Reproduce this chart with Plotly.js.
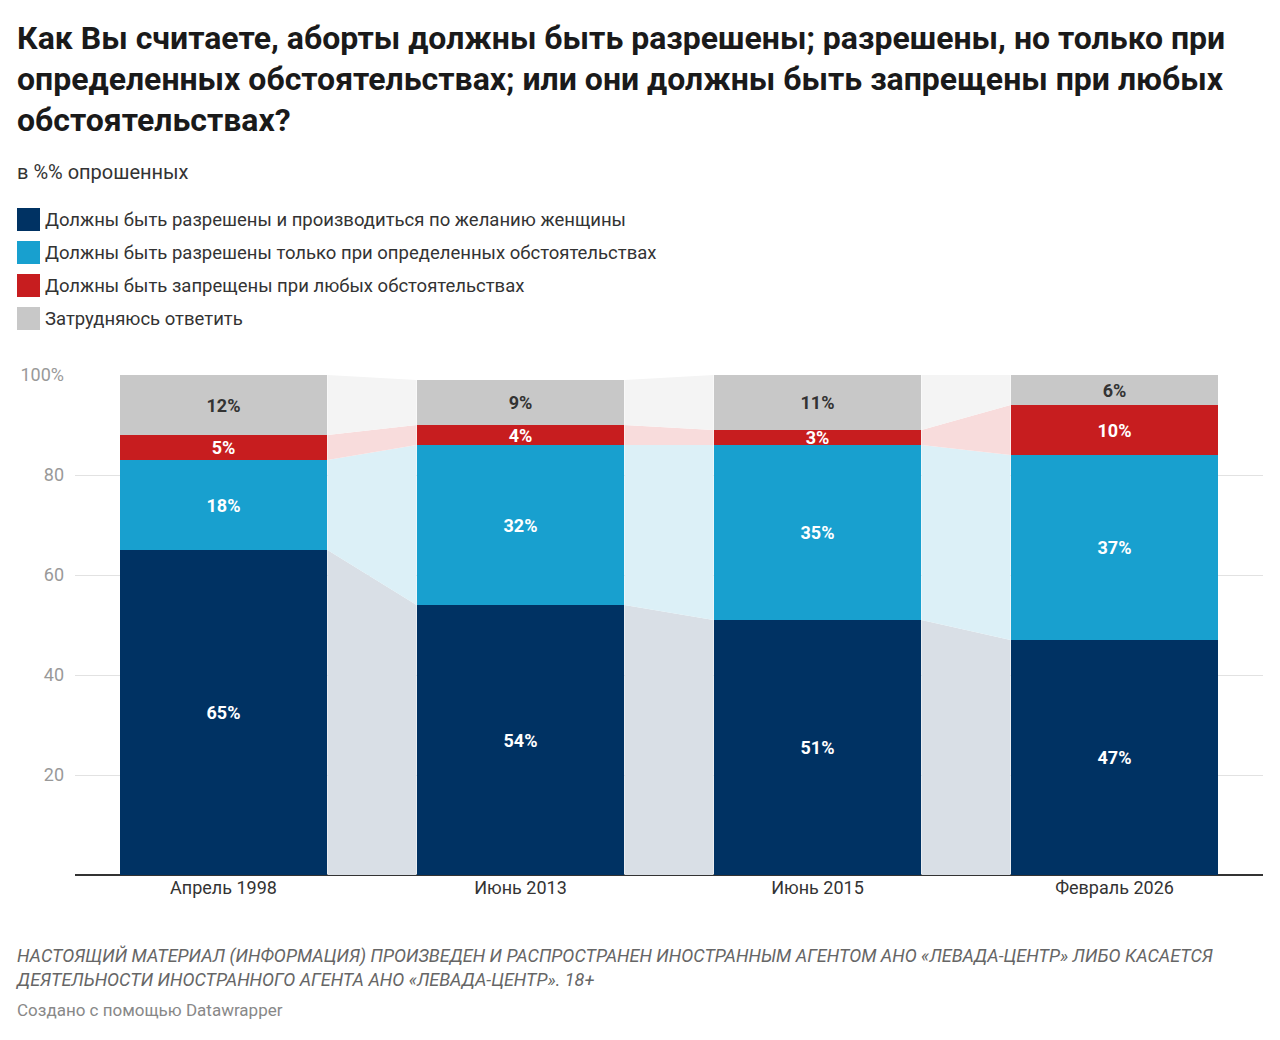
<!DOCTYPE html>
<html>
<head>
<meta charset="utf-8">
<script src="https://cdn.plot.ly/plotly-3.0.1.min.js"></script>
<style>
body { margin: 0; width: 1280px; height: 1040px; background: #fff; font-family: Roboto, "Noto Sans", sans-serif; position: relative; }
h1 { position: absolute; left: 17px; top: 18px; margin: 0; width: 1240px; font-size: 32px; line-height: 41px; font-weight: 700; color: #1a1a1a; }
.sub { position: absolute; left: 17px; top: 160px; font-size: 20px; color: #333; }
.legend { position: absolute; left: 17px; top: 203px; font-size: 18.5px; color: #333; }
.legend div { height: 33px; display: flex; align-items: center; }
.legend span { display: inline-block; width: 23px; height: 23px; margin-right: 5px; }
#plot { position: absolute; left: 0; top: 340px; width: 1280px; height: 590px; }
.note { position: absolute; left: 17px; top: 944px; width: 1250px; font-size: 18px; line-height: 24px; font-style: italic; color: #666; }
.credit { position: absolute; left: 17px; top: 1000px; font-size: 17px; color: #888; }
</style>
</head>
<body>
<h1>Как Вы считаете, аборты должны быть разрешены; разрешены, но только при определенных обстоятельствах; или они должны быть запрещены при любых обстоятельствах?</h1>
<div class="sub">в %% опрошенных</div>
<div class="legend" id="legend"></div>
<div id="plot"></div>
<div class="note">НАСТОЯЩИЙ МАТЕРИАЛ (ИНФОРМАЦИЯ) ПРОИЗВЕДЕН И РАСПРОСТРАНЕН ИНОСТРАННЫМ АГЕНТОМ АНО «ЛЕВАДА-ЦЕНТР» ЛИБО КАСАЕТСЯ ДЕЯТЕЛЬНОСТИ ИНОСТРАННОГО АГЕНТА АНО «ЛЕВАДА-ЦЕНТР». 18+</div>
<div class="credit">Создано с помощью Datawrapper</div>
<script>
const categories = ["Апрель 1998", "Июнь 2013", "Июнь 2015", "Февраль 2026"];
const seriesNames = [
    "Должны быть разрешены и производиться по желанию женщины",
    "Должны быть разрешены только при определенных обстоятельствах",
    "Должны быть запрещены при любых обстоятельствах",
    "Затрудняюсь ответить"
];
const allowed = [65, 54, 51, 47];
const conditional = [18, 32, 35, 37];
const banned = [5, 4, 3, 10];
const unsure = [12, 9, 11, 6];

const series = [allowed, conditional, banned, unsure];
const colors = ["#003263", "#18a0cf", "#c71d1f", "#c8c8c8"];
const bandColors = ["#d9dfe6", "#dcf0f7", "#f8dcdc", "#f4f4f4"];
const textColors = ["#fff", "#fff", "#fff", "#333"];
const barWidth = 0.7;

// legend
const legendDOM = document.getElementById("legend");
seriesNames.forEach((name, i) => {
    const row = document.createElement("div");
    row.innerHTML = '<span style="background:' + colors[i] + '"></span>' + name;
    legendDOM.appendChild(row);
});

const xs = categories.map((c, i) => i);
var data = [];

// connecting bands between bars
let base = categories.map(() => 0);
series.forEach((vals, s) => {
    const top = base.map((b, i) => b + vals[i]);
    for (let i = 0; i < categories.length - 1; i++) {
        const x0 = i + barWidth / 2, x1 = i + 1 - barWidth / 2;
        data.push({
            x: [x0, x1, x1, x0, x0],
            y: [base[i], base[i + 1], top[i + 1], top[i], base[i]],
            type: "scatter", mode: "lines", fill: "toself",
            fillcolor: bandColors[s], line: {width: 0},
            hoverinfo: "skip", showlegend: false
        });
    }
    base = top;
});

// bars
series.forEach((vals, s) => {
    data.push({
        x: xs, y: vals, type: "bar", width: barWidth,
        marker: {color: colors[s]},
        text: vals.map(v => v + "%"),
        textposition: "inside", insidetextanchor: "middle",
        textangle: 0, constraintext: "none",
        textfont: {color: textColors[s], size: 18, family: "Roboto", weight: 700},
        name: seriesNames[s], showlegend: false
    });
});

const layout = {
    barmode: "stack",
    margin: {l: 75, r: 17, t: 35, b: 55},
    paper_bgcolor: "#fff", plot_bgcolor: "#fff",
    font: {family: "Roboto", color: "#333"},
    xaxis: {
        range: [-0.5, 3.5], tickvals: xs, ticktext: categories,
        showgrid: false, zeroline: false, showline: false,
        ticks: "", tickfont: {size: 18, color: "#333"}
    },
    yaxis: {
        range: [0, 100], tickvals: [0, 20, 40, 60, 80, 100],
        ticktext: ["", "20", "40", "60", "80", "100%"],
        gridcolor: "#e2e2e2", zeroline: true, zerolinecolor: "#333", zerolinewidth: 1.5,
        tickfont: {size: 18, color: "#999"}, ticklabelstandoff: 10
    },
    showlegend: false
};

Plotly.newPlot("plot", data, layout, {displayModeBar: false, staticPlot: true});
</script>
</body>
</html>
